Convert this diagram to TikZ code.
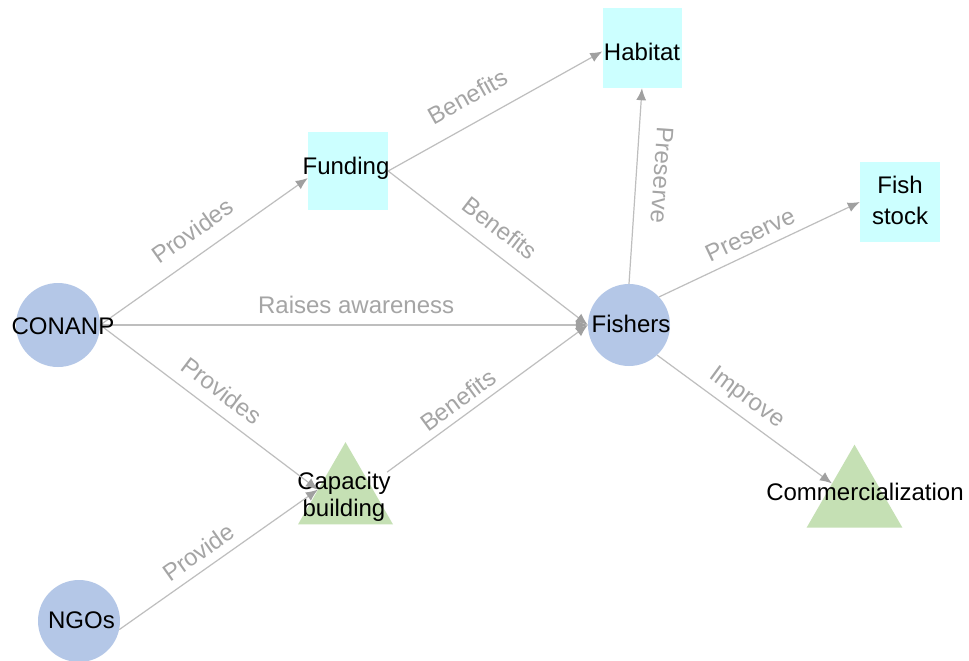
\documentclass[tikz,border=0pt]{standalone}
\usepackage{fontspec}
\setmainfont{Liberation Sans}
\usetikzlibrary{arrows.meta,shapes.geometric}
\definecolor{nodeblue}{RGB}{180,199,231}
\definecolor{nodecyan}{RGB}{204,255,255}
\definecolor{nodegreen}{RGB}{197,224,180}
\definecolor{edgegray}{RGB}{190,190,190}
\definecolor{labelgray}{RGB}{165,165,165}
\definecolor{tipgray}{RGB}{160,160,160}
\begin{document}
\begin{tikzpicture}[x=1pt,y=-1pt,
  circ/.style={circle, fill=nodeblue, draw=none, minimum size=#1, inner sep=0pt},
  sq/.style={rectangle, fill=nodecyan, draw=none, inner sep=0pt},
  tri/.style={regular polygon, regular polygon sides=3, fill=nodegreen, draw=none, inner sep=0pt, minimum size=#1},
  txt/.style={font=\fontsize{24}{27}\selectfont, inner sep=0pt, text=black, align=center},
  lbl/.style={font=\fontsize{24}{27}\selectfont, inner sep=0pt, text=labelgray, sloped},
  conn/.style={draw=edgegray, line width=1.2pt, -{Latex[length=12pt,width=10pt,color=tipgray]}},
]
\fill[white] (0,0) rectangle (969,661);
\useasboundingbox (0,0) rectangle (969,661);

% shapes
\node[sq, minimum width=79pt, minimum height=80pt] (habitat) at (642,48) {};
\node[sq, minimum width=80pt, minimum height=78pt] (funding) at (348,171) {};
\node[sq, minimum width=80pt, minimum height=80pt] (fish) at (900,202) {};
\node[circ=84pt] (conanp) at (58,325) {};
\node[circ=82pt] (fishers) at (629,325) {};
\node[circ=82pt] (ngos) at (79,621) {};
\node[tri=109.7pt] (capt) at (345.5,497) {};
\node[tri=110.6pt] (comt) at (854.5,500) {};

% text of the nodes
\node[txt] (habitatt) at (642,51.5) {Habitat};
\node[txt] (fundingt) at (346,168.5) {Funding};
\node[txt, font=\fontsize{24}{31}\selectfont] (fisht) at (900,200) {Fish\\stock};
\node[txt] (capl) at (344,497) {Capacity\\building};
\node[txt] (comtt) at (865,491.5) {Commercialization};

% connectors
\draw[conn] (conanp.east) -- node[lbl, pos=.51, above=14pt] {Provides} (funding.190);
\draw[conn] (funding.east) -- node[lbl, pos=.43, above=17pt] {Benefits} (habitat.185);
\draw[conn] (funding.east) -- node[lbl, pos=.49, above=14pt] {Benefits} (fishers.west);
\draw[conn] (conanp.east) -- node[lbl, pos=.525, above=11pt] {Raises awareness} (fishers.west);
\draw[conn] (conanp.east) -- node[lbl, pos=.50, above=11.5pt] {Provides} (capt.165);
\draw[conn] (ngos.-12) -- node[lbl, pos=.45, above=8pt] {Provide} (capt.165);
\draw[conn] (capl.30) -- node[lbl, pos=.40, above=6.5pt] {Benefits} (fishers.west);
\draw[conn] (fishers.north) -- (habitat.south);
\node[font=\fontsize{24}{27}\selectfont, inner sep=0pt, text=labelgray, rotate=-94] (preservehab) at (662,175) {Preserve};
\draw[conn] (fishers.43) -- node[lbl, pos=.49, above=8.5pt] {Preserve} (fish.west);
\draw[conn] (fishers.-47) -- node[lbl, pos=.45, above=7pt] {Improve} (comt);

% circle texts on top
\node[txt] (conanpt) at (63,326) {CONANP};
\node[txt] (fisherst) at (631,324) {Fishers};
\node[txt] (ngost) at (81.5,620) {NGOs};
\end{tikzpicture}
\end{document}
